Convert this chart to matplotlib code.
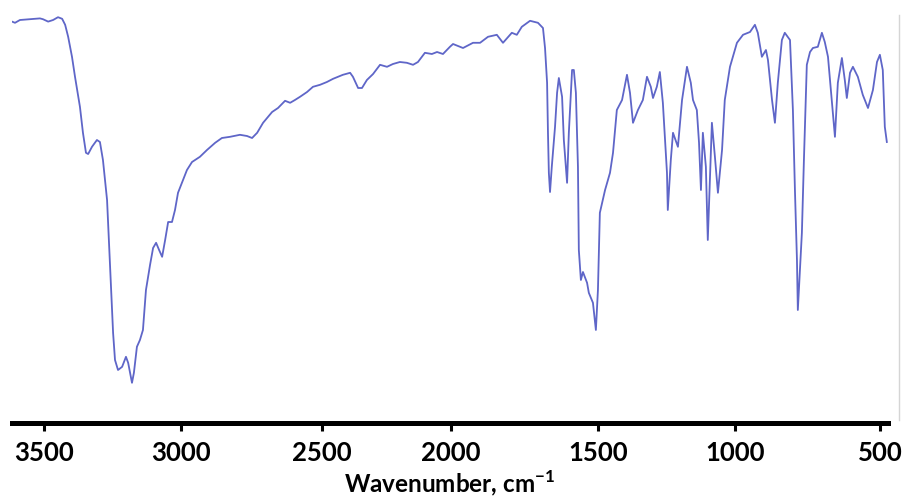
import numpy as np
import matplotlib
matplotlib.use("Agg")
import matplotlib.pyplot as plt
from matplotlib.lines import Line2D

# ---- data (wavenumber, cm-1 ; transmittance, %) ----
wavenumber = [3617, 3606, 3588, 3515, 3504, 3485, 3467, 3449, 3434, 3423, 3412, 3398, 3387, 3369,
              3358, 3347, 3339, 3325, 3307, 3296, 3285, 3270, 3259, 3248, 3241, 3230, 3215, 3201,
              3193, 3179, 3172, 3161, 3150, 3139, 3128, 3113, 3102, 3091, 3080, 3069, 3058, 3047,
              3033, 3022, 3011, 2993, 2979, 2961, 2933, 2908, 2879, 2855, 2826, 2791, 2766, 2748,
              2730, 2709, 2677, 2656, 2631, 2613, 2596, 2578, 2553, 2532, 2507, 2481, 2457, 2419,
              2391, 2380, 2360, 2345, 2326, 2302, 2275, 2248, 2225, 2198, 2171, 2147, 2128, 2101,
              2074, 2054, 2031, 2004, 1993, 1959, 1925, 1901, 1874, 1844, 1823, 1793, 1776, 1759,
              1731, 1704, 1687, 1680, 1673, 1670, 1667, 1663, 1657, 1646, 1639, 1633, 1622, 1616,
              1605, 1599, 1588, 1582, 1575, 1568, 1565, 1558, 1551, 1537, 1531, 1517, 1507, 1500,
              1493, 1474, 1456, 1445, 1431, 1412, 1394, 1383, 1372, 1354, 1336, 1321, 1307, 1299,
              1285, 1274, 1263, 1248, 1245, 1234, 1226, 1208, 1193, 1175, 1161, 1153, 1139, 1131,
              1124, 1117, 1106, 1099, 1084, 1073, 1062, 1047, 1037, 1018, 993, 972, 948, 931,
              921, 907, 893, 886, 872, 862, 852, 838, 828, 810, 800, 793, 786, 783,
              769, 762, 752, 741, 731, 714, 700, 690, 679, 666, 655, 645, 631, 621,
              614, 603, 593, 576, 559, 541, 524, 510, 500, 490, 483, 476]
transmittance = [99.6, 99.3, 100.0, 100.4, 100.2, 99.6, 100.0, 100.7, 100.3, 98.8, 95.8, 90.8, 85.8, 78.3,
                 71.8, 66.8, 66.5, 68.3, 70.0, 69.5, 65.0, 55.0, 38.3, 21.8, 15.0, 12.5, 13.3, 15.8,
                 14.3, 9.3, 11.8, 18.3, 20.0, 22.5, 32.5, 38.8, 43.0, 44.3, 42.5, 40.8, 45.0, 49.5,
                 49.5, 52.5, 56.8, 60.0, 62.5, 64.5, 65.8, 67.5, 69.3, 70.5, 70.8, 71.3, 71.0, 70.5,
                 71.8, 74.3, 77.0, 78.0, 79.8, 79.3, 80.0, 80.8, 82.0, 83.3, 83.8, 84.5, 85.3, 86.3,
                 86.8, 85.8, 83.0, 83.0, 85.0, 86.5, 88.8, 88.3, 89.0, 89.5, 89.3, 88.8, 89.5, 91.8,
                 91.5, 92.0, 91.5, 93.3, 94.0, 93.0, 94.3, 94.3, 95.8, 96.3, 94.3, 96.8, 96.3, 98.3,
                 99.8, 99.3, 98.0, 93.0, 84.3, 71.8, 61.8, 57.0, 63.3, 73.3, 81.8, 85.5, 80.8, 70.0,
                 59.3, 71.8, 87.5, 87.5, 81.8, 63.3, 42.5, 35.0, 37.0, 34.3, 31.8, 29.3, 22.5, 32.5,
                 51.8, 57.5, 61.8, 66.8, 77.5, 80.0, 86.3, 81.8, 74.3, 77.5, 80.0, 85.8, 83.3, 80.5,
                 83.3, 87.0, 79.3, 61.8, 52.5, 65.0, 71.8, 68.3, 80.0, 88.3, 84.3, 80.0, 77.5, 69.3,
                 57.5, 71.8, 63.3, 45.0, 74.3, 65.8, 56.8, 67.5, 80.0, 88.3, 94.3, 96.3, 97.0, 98.8,
                 96.8, 90.8, 92.5, 90.0, 80.0, 74.3, 84.3, 95.0, 96.8, 95.0, 77.5, 57.5, 40.0, 27.5,
                 46.8, 65.0, 88.8, 92.0, 93.0, 93.3, 96.8, 94.5, 90.8, 80.0, 70.8, 84.3, 90.5, 85.0,
                 80.5, 86.8, 88.3, 85.8, 81.3, 78.0, 82.5, 89.5, 91.3, 87.5, 73.3, 69.5]
tick_values = [3500, 3000, 2500, 2000, 1500, 1000, 500]
tick_labels = ["3500", "3000", "2500", "2000", "1500", "1000", "500"]

# slightly non-uniform wavenumber axis of the original instrument printout
_warp_wn = np.array([0, 500, 1000, 1500, 2000, 2500, 3000, 3500, 5000], dtype=float)
_warp_u = np.array([1025, 880, 735, 598, 451, 322, 181, 44, -367], dtype=float)


def _fwd(x):
    return -np.interp(x, _warp_wn, _warp_u)


def _inv(u):
    return np.interp(-np.asarray(u), _warp_u[::-1], _warp_wn[::-1])


plt.rcParams['font.family'] = ['Lato', 'DejaVu Sans']
plt.rcParams['mathtext.fontset'] = 'custom'
plt.rcParams['mathtext.rm'] = 'Lato'
plt.rcParams['mathtext.bf'] = 'Lato:bold'

W, H = 904, 499
fig = plt.figure(figsize=(W / 100, H / 100), dpi=100)
ax = fig.add_axes([12 / W, (H - 422.5) / H, 876 / W, 412.5 / H])

ax.plot(wavenumber, transmittance, color='#4d55c2', lw=1.3, alpha=0.9, solid_joinstyle='round')

ax.set_xscale('function', functions=(_fwd, _inv))
ax.set_xlim(3617, 472)
ax.set_ylim(-0.625, 102.5)

for s in ['top', 'right', 'left']:
    ax.spines[s].set_visible(False)
ax.spines['bottom'].set_linewidth(3.6)
ax.spines['bottom'].set_color('black')
ax.set_yticks([])
ax.set_xticks(tick_values)
ax.set_xticklabels(tick_labels)
ax.tick_params(axis='x', direction='out', length=6, width=2.2, color='black',
               labelsize=18.5, pad=7)
for lbl in ax.get_xticklabels():
    lbl.set_fontweight('bold')
ax.set_xlabel('Wavenumber, cm$^{\\mathbf{-1}}$', fontsize=17.5, fontweight='bold', labelpad=3)

fig.add_artist(Line2D([899.5 / W, 899.5 / W], [1 - 15 / H, 1 - 420 / H],
                      transform=fig.transFigure, color='#d5d5d5', lw=1))

fig.savefig('out.png', dpi=100)
